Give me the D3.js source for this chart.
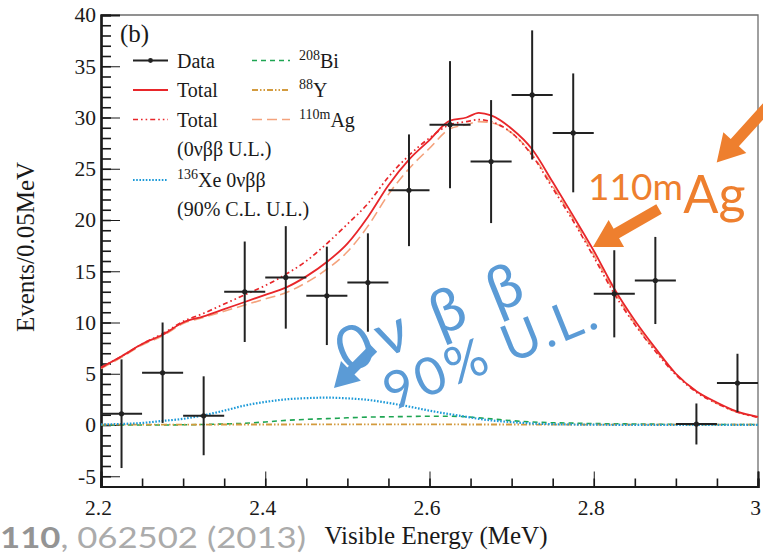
<!DOCTYPE html>
<html><head><meta charset="utf-8">
<script src="https://cdn.jsdelivr.net/npm/d3@7"></script>
<style>body{margin:0;background:#fff} svg{display:block}</style>
</head><body><svg id="c" width="763" height="555"></svg>
<script>
// Energy spectrum of candidate events, 2.2-3.0 MeV, 0.05 MeV bins
const binCenters = [2.225, 2.275, 2.325, 2.375, 2.425, 2.475, 2.525, 2.575,
                    2.625, 2.675, 2.725, 2.775, 2.825, 2.875, 2.925, 2.975];
const counts     = [1.1, 5.1, 0.9, 13.0, 14.4, 12.6, 13.9, 22.9,
                    29.3, 25.7, 32.2, 28.5, 12.8, 14.1, 0.1, 4.1];
const countErr   = [5.3, 4.9, 3.85, 4.9, 5.0, 4.8, 4.8, 5.45,
                    6.2, 6.0, 6.3, 5.8, 4.25, 4.25, 2.0, 2.85];
const binHalfWidth = 0.025;

// Fitted spectral components
const energy = [2.2, 2.225, 2.25, 2.275, 2.3, 2.325, 2.35, 2.375, 2.4, 2.425, 2.45, 2.475,
                2.5, 2.525, 2.55, 2.575, 2.6, 2.625, 2.645, 2.66, 2.675, 2.7, 2.725, 2.75,
                2.775, 2.8, 2.825, 2.85, 2.875, 2.9, 2.925, 2.95, 2.975, 3.0];
const total    = [5.6, 6.7, 7.9, 8.8, 10.0, 10.6, 11.3, 12.0, 12.7, 13.4, 14.5, 15.9,
                  17.7, 20.3, 23.4, 25.9, 27.8, 29.7, 30.0, 30.45, 30.2, 28.9, 26.9, 23.7,
                  20.4, 17.0, 13.3, 10.2, 7.5, 5.0, 3.3, 2.2, 1.3, 0.8];
const totalUL  = [5.6, 6.7, 7.9, 8.9, 10.1, 10.9, 11.8, 12.7, 13.6, 14.7, 16.0, 17.7,
                  19.6, 21.6, 24.2, 26.3, 28.0, 29.3, 29.6, 29.8, 29.6, 28.5, 26.3, 23.1,
                  19.9, 16.4, 12.8, 9.8, 7.2, 4.9, 3.2, 2.1, 1.25, 0.75];
const ag110m   = [5.5, 6.6, 7.8, 8.7, 9.9, 10.5, 11.1, 11.7, 12.3, 12.9, 13.9, 15.2,
                  16.9, 19.4, 22.5, 25.0, 27.0, 28.9, 29.3, 29.6, 29.5, 28.5, 26.4, 23.3,
                  20.1, 16.6, 13.0, 9.9, 7.3, 5.0, 3.3, 2.1, 1.25, 0.75];
const bi208    = [0.0, 0.0, 0.0, 0.0, 0.02, 0.05, 0.1, 0.17, 0.3, 0.45, 0.55, 0.62,
                  0.7, 0.77, 0.8, 0.83, 0.86, 0.85, 0.8, 0.7, 0.6, 0.42, 0.3, 0.22,
                  0.18, 0.14, 0.12, 0.1, 0.08, 0.07, 0.06, 0.05, 0.05, 0.05];
const y88      = [0.03, 0.03, 0.03, 0.04, 0.04, 0.04, 0.05, 0.05, 0.05, 0.05, 0.06, 0.06,
                  0.06, 0.06, 0.06, 0.06, 0.06, 0.06, 0.05, 0.05, 0.05, 0.05, 0.04, 0.04,
                  0.04, 0.04, 0.03, 0.03, 0.03, 0.03, 0.03, 0.03, 0.03, 0.03];
const xe0vbb   = [0.05, 0.1, 0.2, 0.4, 0.6, 0.95, 1.4, 1.9, 2.25, 2.5, 2.62, 2.67,
                  2.6, 2.45, 2.15, 1.8, 1.4, 1.05, 0.8, 0.6, 0.45, 0.28, 0.15, 0.08,
                  0.05, 0.03, 0.02, 0.02, 0.02, 0.02, 0.02, 0.02, 0.02, 0.02];

const xTicks = [2.2, 2.4, 2.6, 2.8, 3.0];
const yTicks = [-5, 0, 5, 10, 15, 20, 25, 30, 35, 40];

const svg = d3.select("#c");
const x = d3.scaleLinear([2.2, 3.0], [101, 758]);
const y = d3.scaleLinear([-6, 40], [486.5, 15]);

const serif = "'Liberation Serif','Times New Roman',serif";
const sans = "Lato,'Open Sans',sans-serif";

// frame (top/right)
svg.append("path")
  .attr("d", `M${x(2.2)},${y(40)}H${x(3.0)}V${y(-6)}`)
  .attr("fill", "none").attr("stroke", "#6e6e6e").attr("stroke-width", 1.3);

// axes with inward ticks
const gx = svg.append("g").attr("transform", `translate(0,${y(-6)})`);
gx.call(d3.axisBottom(x).tickValues(d3.range(2.2, 3.0001, 0.05)).tickSize(-8).tickFormat(""));
gx.call(g => g.selectAll(".tick line").attr("stroke-width", 1.6));
const gx2 = svg.append("g").attr("transform", `translate(0,${y(-6)})`);
gx2.call(d3.axisBottom(x).tickValues(xTicks).tickSize(-15).tickPadding(13)
  .tickFormat(d => d === 3 ? "3" : d3.format(".1f")(d)));

const gy = svg.append("g").attr("transform", `translate(${x(2.2)},0)`);
gy.call(d3.axisLeft(y).tickValues(d3.range(-6, 40.5, 1)).tickSize(-10).tickFormat(""));
gy.call(g => g.selectAll(".tick line").attr("stroke-width", 1.6));
const gy2 = svg.append("g").attr("transform", `translate(${x(2.2)},0)`);
gy2.call(d3.axisLeft(y).tickValues(yTicks).tickSize(-19).tickPadding(5).tickFormat(d => String(d)));

[gx, gx2, gy, gy2].forEach(g => {
  g.select(".domain").attr("stroke", "#1a1a1a").attr("stroke-width", 2.2);
  g.selectAll(".tick line").attr("stroke", "#1a1a1a");
  g.selectAll("text").attr("font-family", serif).attr("font-size", 21.5).attr("fill", "#1a1a1a");
});
gx2.selectAll("text").attr("dx", -3);

// axis titles
svg.append("text").attr("x", 436).attr("y", 544).attr("text-anchor", "middle")
  .attr("font-family", serif).attr("font-size", 25).attr("fill", "#1a1a1a")
  .text("Visible Energy (MeV)");
svg.append("text").attr("transform", "translate(34,247) rotate(-90)").attr("text-anchor", "middle")
  .attr("font-family", serif).attr("font-size", 25).attr("fill", "#1a1a1a")
  .text("Events/0.05MeV");

// spectral curves
const series = [
  {vals: bi208,   color: "#1ea552", width: 1.6, dash: "5,4"},
  {vals: y88,     color: "#d39b3f", width: 1.8, dash: "6,2,1.5,2,1.5,2"},
  {vals: xe0vbb,  color: "#1d9ad8", width: 2.2, dash: "1.6,1.6"},
  {vals: ag110m,  color: "#f4a27c", width: 1.6, dash: "10,5"},
  {vals: totalUL, color: "#e8262a", width: 1.7, dash: "5,3,1.6,3,1.6,3"},
  {vals: total,   color: "#e8262a", width: 1.8, dash: null}
];
const line = d3.line().x((d, i) => x(energy[i])).y(d => y(d)).curve(d3.curveMonotoneX);
series.forEach(s => {
  svg.append("path").datum(s.vals).attr("d", line)
    .attr("fill", "none").attr("stroke", s.color).attr("stroke-width", s.width)
    .attr("stroke-dasharray", s.dash);
});

// data points with error bars
const gd = svg.append("g").attr("stroke", "#222").attr("stroke-width", 2);
binCenters.forEach((c, i) => {
  gd.append("line").attr("x1", x(c - binHalfWidth)).attr("x2", x(c + binHalfWidth))
    .attr("y1", y(counts[i])).attr("y2", y(counts[i]));
  gd.append("line").attr("x1", x(c)).attr("x2", x(c))
    .attr("y1", y(counts[i] - countErr[i])).attr("y2", y(counts[i] + countErr[i]));
  gd.append("circle").attr("cx", x(c)).attr("cy", y(counts[i])).attr("r", 2.6)
    .attr("fill", "#222").attr("stroke", "none");
});

// panel tag
svg.append("text").attr("x", 120).attr("y", 42).attr("font-family", serif)
  .attr("font-size", 25).attr("fill", "#1a1a1a").text("(b)");

// legend
const leg = svg.append("g").attr("font-family", serif).attr("font-size", 20).attr("fill", "#1a1a1a");
function legLine(x1, x2, yy, color, width, dash) {
  leg.append("line").attr("x1", x1).attr("x2", x2).attr("y1", yy).attr("y2", yy)
    .attr("stroke", color).attr("stroke-width", width).attr("stroke-dasharray", dash);
}
function legText(tx, ty, parts) {
  const t = leg.append("text").attr("x", tx).attr("y", ty);
  parts.forEach(p => {
    const s = t.append("tspan").text(p[0]);
    if (p[1]) s.attr("font-size", 14).attr("dy", -8);
    else if (p[2]) s.attr("dy", 8);
  });
}
legLine(133, 168, 60.5, "#222", 1.8, null);
leg.append("circle").attr("cx", 150.5).attr("cy", 60.5).attr("r", 2.4).attr("fill", "#222");
legText(177, 67.5, [["Data"]]);
legLine(133, 168, 90, "#e8262a", 1.8, null);
legText(177, 97, [["Total"]]);
legLine(133, 168, 119.5, "#e8262a", 1.7, "5,3,1.6,3,1.6,3");
legText(177, 126.5, [["Total"]]);
legText(177, 156, [["(0\u03bd\u03b2\u03b2 U.L.)"]]);
legLine(133, 168, 180, "#1d9ad8", 2.2, "1.6,1.6");
legText(177, 187, [["136", true], ["Xe 0\u03bd\u03b2\u03b2", false, true]]);
legText(177, 216, [["(90% C.L. U.L.)"]]);
legLine(252, 290, 60.5, "#1ea552", 1.6, "5,4");
legText(299, 67.5, [["208", true], ["Bi", false, true]]);
legLine(252, 290, 90, "#d39b3f", 1.8, "6,2,1.5,2,1.5,2");
legText(299, 97, [["88", true], ["Y", false, true]]);
legLine(252, 290, 119.5, "#f4a27c", 1.6, "10,5");
legText(299, 126.5, [["110m", true], ["Ag", false, true]]);

// block arrow helper (tail/tip in data units)
function arrow(t0, t1, shaftW, headW, headL, color) {
  const ax = x(t0[0]), ay = y(t0[1]), bx = x(t1[0]), by = y(t1[1]);
  const L = Math.hypot(bx - ax, by - ay), ux = (bx - ax) / L, uy = (by - ay) / L;
  const nx = -uy, ny = ux;
  const hx = bx - ux * headL, hy = by - uy * headL;
  const pts = [
    [ax + nx * shaftW / 2, ay + ny * shaftW / 2],
    [hx + nx * shaftW / 2, hy + ny * shaftW / 2],
    [hx + nx * headW / 2, hy + ny * headW / 2],
    [bx, by],
    [hx - nx * headW / 2, hy - ny * headW / 2],
    [hx - nx * shaftW / 2, hy - ny * shaftW / 2],
    [ax - nx * shaftW / 2, ay - ny * shaftW / 2]
  ];
  svg.append("path").attr("d", "M" + pts.map(p => p.join(",")).join("L") + "Z").attr("fill", color);
}

const orange = "#ee7f2e", blue = "#5b9bd6";
arrow([3.021, 31.9], [2.9497, 25.6], 11, 31, 27, orange);
arrow([2.8795, 21.07], [2.799, 17.37], 11, 31, 27, orange);
arrow([2.532, 7.5], [2.4837, 3.61], 10, 28, 24, blue);

// 110mAg label
const agLab = svg.append("text").attr("font-family", sans).attr("fill", orange);
agLab.append("tspan").attr("x", x(2.793)).attr("y", y(21.95)).attr("font-size", 37).text("110m");
agLab.append("tspan").attr("x", x(2.909)).attr("y", y(20.7)).attr("font-size", 52).text("Ag");

// 0vbb label
const bl = svg.append("g").attr("font-family", sans).attr("fill", blue);
bl.append("text").attr("transform", `translate(${x(2.4985)},${y(5.0)}) rotate(-22)`)
  .attr("font-size", 61).attr("letter-spacing", 6).text("0\u03bd \u03b2 \u03b2");
bl.append("text").attr("transform", `translate(${x(2.5545)},${y(1.35)}) rotate(-22)`)
  .attr("font-size", 52).attr("letter-spacing", 3).text("90% U.L.");

// citation strip
const cite = svg.append("text").attr("x", 0).attr("y", 548).attr("font-family", sans)
  .attr("font-size", 29).attr("textLength", 306).attr("lengthAdjust", "spacingAndGlyphs");
cite.append("tspan").attr("fill", "#949494").attr("font-weight", 700).text("110");
cite.append("tspan").attr("fill", "#ababab").text(", 062502 (2013)");
</script></body></html>
